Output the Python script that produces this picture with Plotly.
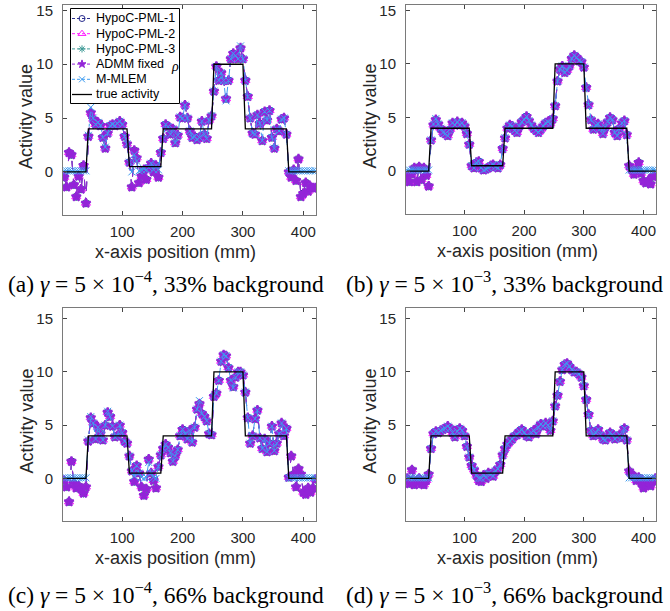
import plotly.graph_objects as go

# x positions (mm)
x_pos = list(range(4, 421, 4))  # 105 samples

# true activity profile
true_activity = [0]*10 + [4]*17 + [0.5]*14 + [4]*21 + [10]*13 + [4]*18 + [0]*12

# (a) gamma=5e-4, 33% background  (HypoC-PML-1/2/3 and ADMM overlap at this scale)
hypoc_a = [-0.5, -1.4, 1.8, 1.6, -1.2, -2.3, -0.4, -1.6, 0.6, -2.9,
           3.3, 5.5, 4.9, 4.4, 4.6, 4.3, 3.2, 2.2, 3.6, 4.3, 4.4, 4.3, 4.5, 4.7, 4.4, 3.3, 2.6,
           0.9, -1.4, 2.0, 1.3, -1.0, -0.4, 0.2, -0.7, 0.4, 0.8, 0.0, 0.6, -0.5, 1.8,
           3.1, 4.4, 4.2, 3.5, 4.0, 2.7, 3.4, 5.1, 5.0, 6.2, 5.0, 3.8, 3.2, 3.3, 3.0, 3.2, 4.7, 3.5, 3.1, 4.8, 5.2,
           7.5, 9.8, 8.5, 9.2, 8.5, 6.8, 8.5, 10.5, 11.0, 10.8, 10.5, 11.5, 10.5,
           8.5, 7.0, 5.0, 3.6, 3.5, 5.3, 4.5, 2.9, 5.6, 4.8, 5.7, 3.2, 2.2, 4.0, 3.8, 4.9, 5.0, 3.5,
           0.0, -0.5, 0.2, -0.8, 1.2, -2.3, -2.0, -1.0, -1.8, -1.4, -1.5, -1.5]
mmlem_a = [0.1, 0.1, 0.1, 0.1, 0.1, 0.1, 0.1, 0.1, 0.1, 0.1,
           3.4, 6.0, 5.0, 4.4, 4.6, 4.3, 3.2, 2.3, 3.6, 4.3, 4.4, 4.3, 4.5, 4.7, 4.4, 3.3, 2.6,
           0.9, 0.0, 1.6, 1.0, 0.1, 0.2, 0.3, 0.2, 0.4, 0.8, 0.2, 0.6, 0.2, 1.8,
           3.1, 4.4, 4.2, 3.5, 4.0, 2.7, 3.4, 5.1, 5.0, 6.2, 5.0, 3.8, 3.2, 3.3, 3.0, 3.2, 4.7, 3.5, 3.1, 4.8, 5.2,
           7.5, 9.8, 8.5, 9.2, 8.5, 6.6, 8.5, 10.5, 11.0, 10.8, 10.5, 11.7, 10.5,
           8.5, 7.0, 5.0, 3.6, 3.5, 5.3, 4.5, 2.9, 5.6, 4.8, 5.7, 3.2, 2.2, 4.0, 3.8, 4.9, 5.0, 3.5,
           0.1, 0.1, 0.1, 0.1, 0.1, 0.1, 0.1, 0.1, 0.1, 0.1, 0.1, 0.1]

# (b) gamma=5e-3, 33% background
hypoc_b = [-0.5, -1.0, -0.3, 0.3, -1.0, 0.4, -0.8, 0.3, -0.4, -1.4,
           2.9, 4.3, 4.8, 4.4, 4.0, 3.6, 3.5, 3.3, 3.9, 4.5, 4.3, 4.6, 4.3, 4.5, 4.2, 3.5, 2.5,
           0.5, 0.3, 0.8, 0.9, 0.3, 0.1, 0.2, 0.3, 0.5, 0.6, 0.4, 0.3, 0.6, 2.1,
           3.1, 4.0, 4.3, 4.2, 3.8, 3.6, 4.2, 4.6, 4.8, 5.1, 4.7, 4.3, 4.0, 3.8, 3.6, 3.9, 4.2, 4.5, 4.6, 4.4, 4.9,
           6.1, 8.4, 9.5, 9.8, 9.2, 9.4, 9.8, 10.5, 10.8, 10.6, 10.3, 10.2, 9.7,
           7.8, 6.2, 4.8, 3.9, 4.3, 4.4, 4.0, 3.5, 4.1, 4.6, 5.0, 4.8, 3.6, 3.3, 4.0, 4.5, 4.7, 3.4,
           0.5, 0.2, -0.3, 0.2, 0.8, -0.2, -0.9, -1.1, -0.9, -1.2, -0.5, -0.4]
mmlem_b = [0.1, 0.1, 0.1, 0.1, 0.1, 0.1, 0.1, 0.1, 0.1, 0.1,
           2.9, 4.4, 4.9, 4.4, 4.0, 3.6, 3.5, 3.3, 3.9, 4.5, 4.3, 4.6, 4.3, 4.5, 4.2, 3.5, 2.5,
           0.5, 0.3, 0.8, 0.9, 0.3, 0.1, 0.2, 0.3, 0.5, 0.6, 0.4, 0.3, 0.6, 2.1,
           3.1, 4.0, 4.3, 4.2, 3.8, 3.6, 4.2, 4.6, 4.8, 5.1, 4.7, 4.3, 4.0, 3.8, 3.6, 3.9, 4.2, 4.5, 4.6, 4.4, 4.9,
           6.1, 8.4, 9.5, 9.8, 9.2, 9.4, 9.8, 10.5, 10.8, 10.6, 10.3, 10.2, 9.7,
           7.8, 6.2, 4.8, 3.9, 4.3, 4.4, 4.0, 3.5, 4.1, 4.6, 5.0, 4.8, 3.6, 3.3, 4.0, 4.5, 4.7, 3.4,
           0.1, 0.1, 0.1, 0.1, 0.1, 0.1, 0.1, 0.1, 0.1, 0.1, 0.1, 0.1]

# (c) gamma=5e-4, 66% background
hypoc_c = [-0.2, -0.8, -2.2, 1.6, -0.5, -0.9, -0.7, -1.0, -1.4, -0.8,
           3.5, 5.7, 5.2, 3.7, 4.8, 4.2, 3.6, 5.0, 6.2, 5.8, 4.9, 3.9, 4.0, 5.0, 4.3, 3.5, 3.3,
           2.1, 0.7, -0.3, 1.2, 0.5, -0.8, -1.6, -1.0, 1.8, 0.5, -0.2, -0.9, 1.1, 2.2,
           2.8, 3.2, 2.9, 2.4, 1.6, 2.1, 2.7, 4.0, 4.6, 4.2, 3.7, 4.5, 3.4, 4.8, 6.5, 7.0, 6.1, 5.8, 5.4, 4.2, 4.1,
           7.7, 8.0, 9.2, 11.0, 11.6, 11.5, 10.4, 9.2, 8.6, 9.5, 10.0, 10.0, 9.7,
           8.1, 5.7, 3.3, 4.0, 5.6, 6.4, 3.8, 2.8, 3.7, 2.5, 3.3, 4.9, 2.6, 3.3, 4.2, 5.2, 4.0, 4.7,
           0.1, 2.1, 0.4, -0.8, 0.9, 0.4, -1.3, -1.5, -0.9, -1.3, -0.9, -0.1]
mmlem_c = [0.05, 0.05, 0.05, 0.05, 0.05, 0.05, 0.05, 0.05, 0.05, 0.05,
           3.6, 5.8, 5.2, 3.7, 4.8, 4.2, 3.6, 5.0, 6.3, 5.8, 4.9, 3.9, 4.0, 5.0, 4.3, 3.5, 3.3,
           2.1, 0.7, 0.2, 1.2, 0.5, 0.1, 0.0, 0.1, 1.5, 0.5, 0.1, 0.0, 1.1, 2.2,
           2.8, 3.2, 2.9, 2.4, 1.6, 2.1, 2.7, 4.0, 4.6, 4.2, 3.7, 4.5, 3.4, 4.8, 6.5, 7.3, 6.1, 5.8, 5.4, 4.2, 4.1,
           7.7, 8.0, 9.2, 11.0, 11.6, 11.5, 10.4, 9.2, 8.5, 9.5, 10.0, 10.0, 9.7,
           8.1, 5.7, 3.3, 4.0, 5.6, 6.4, 3.8, 2.8, 3.7, 2.5, 3.3, 4.9, 2.6, 3.3, 4.2, 5.2, 4.0, 4.7,
           0.05, 0.05, 0.05, 0.05, 0.05, 0.05, 0.05, 0.05, 0.05, 0.05, 0.05, 0.05]

# (d) gamma=5e-3, 66% background
hypoc_d = [0.0, -0.5, 0.8, -0.6, -0.3, 0.0, -0.5, -0.6, -0.2, 0.4,
           2.8, 4.2, 4.4, 4.3, 4.5, 4.6, 4.7, 4.9, 4.7, 4.3, 3.9, 4.4, 4.7, 4.5, 4.0, 3.0, 2.0,
           1.2, 0.8, 0.3, -0.2, -0.3, 0.3, 0.0, 0.5, 0.4, 0.2, 0.7, 0.9, 1.3, 2.2,
           2.8, 3.2, 3.5, 3.7, 4.0, 4.1, 4.4, 4.6, 4.3, 4.0, 3.9, 4.3, 4.5, 4.2, 4.8, 5.1, 4.9, 5.2, 5.0, 4.5, 5.4,
           6.8, 7.8, 9.1, 10.2, 10.7, 10.8, 10.5, 10.2, 10.0, 10.0, 9.8, 9.5, 8.7,
           7.4, 6.0, 4.5, 4.0, 4.3, 4.6, 4.1, 3.7, 3.6, 3.9, 4.3, 4.1, 3.7, 3.9, 4.1, 3.8, 4.7, 3.6,
           0.7, 0.4, 0.2, -0.2, 0.1, -0.4, -0.9, -0.6, -0.3, -0.7, -0.2, 0.0]
mmlem_d = [0.05, 0.05, 0.05, 0.05, 0.05, 0.05, 0.05, 0.05, 0.05, 0.05,
           2.8, 4.2, 4.4, 4.3, 4.5, 4.6, 4.7, 4.9, 4.7, 4.3, 3.9, 4.4, 4.7, 4.5, 4.0, 3.0, 2.0,
           1.2, 0.8, 0.3, 0.0, 0.0, 0.3, 0.1, 0.5, 0.4, 0.2, 0.7, 0.9, 1.3, 2.2,
           2.8, 3.2, 3.5, 3.7, 4.0, 4.1, 4.4, 4.6, 4.3, 4.0, 3.9, 4.3, 4.5, 4.2, 4.8, 5.1, 4.9, 5.2, 5.0, 4.5, 5.4,
           6.8, 7.8, 9.1, 10.2, 10.7, 10.8, 10.5, 10.2, 10.0, 10.0, 9.8, 9.5, 8.7,
           7.4, 6.0, 4.5, 4.0, 4.3, 4.6, 4.1, 3.7, 3.6, 3.9, 4.3, 4.1, 3.7, 3.9, 4.1, 3.8, 4.7, 3.6,
           0.05, 0.05, 0.05, 0.05, 0.05, 0.05, 0.05, 0.05, 0.05, 0.05, 0.05, 0.05]

x_ticks = [100, 200, 300, 400]
y_ticks = [0, 5, 10, 15]
series_names = ["HypoC-PML-1", "HypoC-PML-2", "HypoC-PML-3", "ADMM fixed", "M-MLEM", "true activity"]
captions = ["(a) <i>γ</i> = 5 × 10<sup>−4</sup>, 33% background",
            "(b) <i>γ</i> = 5 × 10<sup>−3</sup>, 33% background",
            "(c) <i>γ</i> = 5 × 10<sup>−4</sup>, 66% background",
            "(d) <i>γ</i> = 5 × 10<sup>−3</sup>, 66% background"]

panels = [(hypoc_a, mmlem_a), (hypoc_b, mmlem_b), (hypoc_c, mmlem_c), (hypoc_d, mmlem_d)]

W, H = 670, 611
SANS = "Liberation Sans, Arial, sans-serif"
SERIF = "Liberation Serif, Times New Roman, serif"
TXT = "#262626"
# pixel boxes: (left, right, top, bottom)
boxes = [(63, 316, 5, 215), (406, 656, 5, 214), (63, 316, 308, 521), (406, 656, 308, 521)]
yranges = [[-4, 15.5], [-4, 15.5], [-4, 16], [-4, 16]]
cap_pos = [(166, 282), (505, 282), (166, 593), (505, 593)]

styles = [
    dict(color="#2b2f8f", symbol="circle-open", size=7, dash="dash", lw=1),
    dict(color="#ff1aff", symbol="triangle-up-open", size=8, dash="dash", lw=1),
    dict(color="#3f9a96", symbol="asterisk-open", size=7, dash="dash", lw=1),
    dict(color="#9324d8", symbol="star", size=7, dash="dash", lw=2),
    dict(color="#3d9bf0", symbol="x-thin-open", size=7, dash="dashdot", lw=1),
]

fig = go.Figure()
layout = dict(width=W, height=H, margin=dict(l=0, r=0, t=0, b=0),
              paper_bgcolor="white", plot_bgcolor="white", showlegend=False)
annotations = []
for i, (hyp, mml) in enumerate(panels):
    xa = "x" if i == 0 else f"x{i+1}"
    ya = "y" if i == 0 else f"y{i+1}"
    vals = [hyp, hyp, hyp, hyp, mml]
    for k, st in enumerate(styles):
        fig.add_trace(go.Scatter(
            x=x_pos, y=vals[k], xaxis=xa, yaxis=ya, mode="lines+markers",
            name=series_names[k],
            line=dict(color=st["color"], width=1, dash=st["dash"]),
            marker=dict(symbol=st["symbol"], size=st["size"], color=st["color"],
                        line=dict(color=st["color"], width=st["lw"]))))
    fig.add_trace(go.Scatter(
        x=x_pos, y=true_activity, xaxis=xa, yaxis=ya, mode="lines",
        name=series_names[5], line=dict(color="black", width=1.3)))
    l, r, t, b = boxes[i]
    axcommon = dict(showline=True, linecolor="#7a7a7a", linewidth=1, mirror="ticks",
                    ticks="inside", ticklen=4, tickcolor="#444444", showgrid=False,
                    zeroline=False, automargin=False,
                    tickfont=dict(family=SANS, size=15, color=TXT))
    layout["xaxis" if i == 0 else f"xaxis{i+1}"] = dict(
        domain=[l / W, r / W], range=[2, 421], tickvals=x_ticks, anchor=ya,
        ticklabelstandoff=3, **axcommon)
    layout["yaxis" if i == 0 else f"yaxis{i+1}"] = dict(
        domain=[1 - b / H, 1 - t / H], range=yranges[i], tickvals=y_ticks, anchor=xa,
        ticklabelstandoff=6, **axcommon)
    # axis titles
    annotations.append(dict(text="x-axis position (mm)", x=((l + r) / 2 - 14) / W, y=1 - (b + 37) / H,
                            xref="paper", yref="paper", showarrow=False,
                            xanchor="center", yanchor="middle",
                            font=dict(family=SANS, size=18, color=TXT)))
    annotations.append(dict(text="Activity value", x=(l - 37) / W, y=1 - ((t + b) / 2 + 7) / H,
                            xref="paper", yref="paper", showarrow=False, textangle=-90,
                            xanchor="center", yanchor="middle",
                            font=dict(family=SANS, size=18, color=TXT)))
    cx, cy = cap_pos[i]
    annotations.append(dict(text=captions[i], x=cx / W, y=1 - cy / H, xref="paper", yref="paper",
                            showarrow=False, xanchor="center", yanchor="middle",
                            font=dict(family=SERIF, size=23.5, color="black")))

# ---- legend drawn in its own small axes (top-left of panel a) ----
LG = (70, 180, 8, 104)  # left, right, top, bottom in px
lw, lh = LG[1] - LG[0], LG[3] - LG[2]
layout["xaxis5"] = dict(domain=[LG[0] / W, LG[1] / W], range=[0, lw], visible=False,
                        fixedrange=True, anchor="y5", automargin=False)
layout["yaxis5"] = dict(domain=[1 - LG[3] / H, 1 - LG[2] / H], range=[lh, 0], visible=False,
                        fixedrange=True, anchor="x5", automargin=False)
fig.add_trace(go.Scatter(x=[0.5, lw - 0.5, lw - 0.5, 0.5, 0.5], y=[0.5, 0.5, lh - 0.5, lh - 0.5, 0.5],
                         xaxis="x5", yaxis="y5", mode="lines", fill="toself",
                         fillcolor="white", line=dict(color="black", width=1), hoverinfo="skip"))
row_pitch = 15.2
row0 = 10.5
for k in range(6):
    yy = row0 + k * row_pitch
    if k < 5:
        st = styles[k]
        fig.add_trace(go.Scatter(x=[2, 12, 22], y=[yy, yy, yy], xaxis="x5", yaxis="y5",
                                 mode="lines", line=dict(color=st["color"], width=1, dash="3px,2px"),
                                 hoverinfo="skip"))
        fig.add_trace(go.Scatter(x=[12], y=[yy], xaxis="x5", yaxis="y5", mode="markers",
                                 marker=dict(symbol=st["symbol"], size=st["size"] - 1, color=st["color"],
                                             line=dict(color=st["color"], width=1)),
                                 hoverinfo="skip"))
    else:
        fig.add_trace(go.Scatter(x=[2, 22], y=[yy, yy], xaxis="x5", yaxis="y5", mode="lines",
                                 line=dict(color="black", width=1.3), hoverinfo="skip"))
    annotations.append(dict(text=series_names[k], x=24, y=yy, xref="x5", yref="y5",
                            showarrow=False, xanchor="left", yanchor="middle",
                            font=dict(family=SANS, size=12.5, color="black")))

annotations.append(dict(text="<i>ρ</i>", x=175 / W, y=1 - 66 / H, xref="paper", yref="paper",
                        showarrow=False, xanchor="center", yanchor="middle",
                        font=dict(family=SERIF, size=14, color="black")))
layout["annotations"] = annotations
fig.update_layout(**layout)
fig.write_html("out.html", config={"displayModeBar": False},
               post_script="document.body.style.margin='0px';document.body.style.padding='0px';")
